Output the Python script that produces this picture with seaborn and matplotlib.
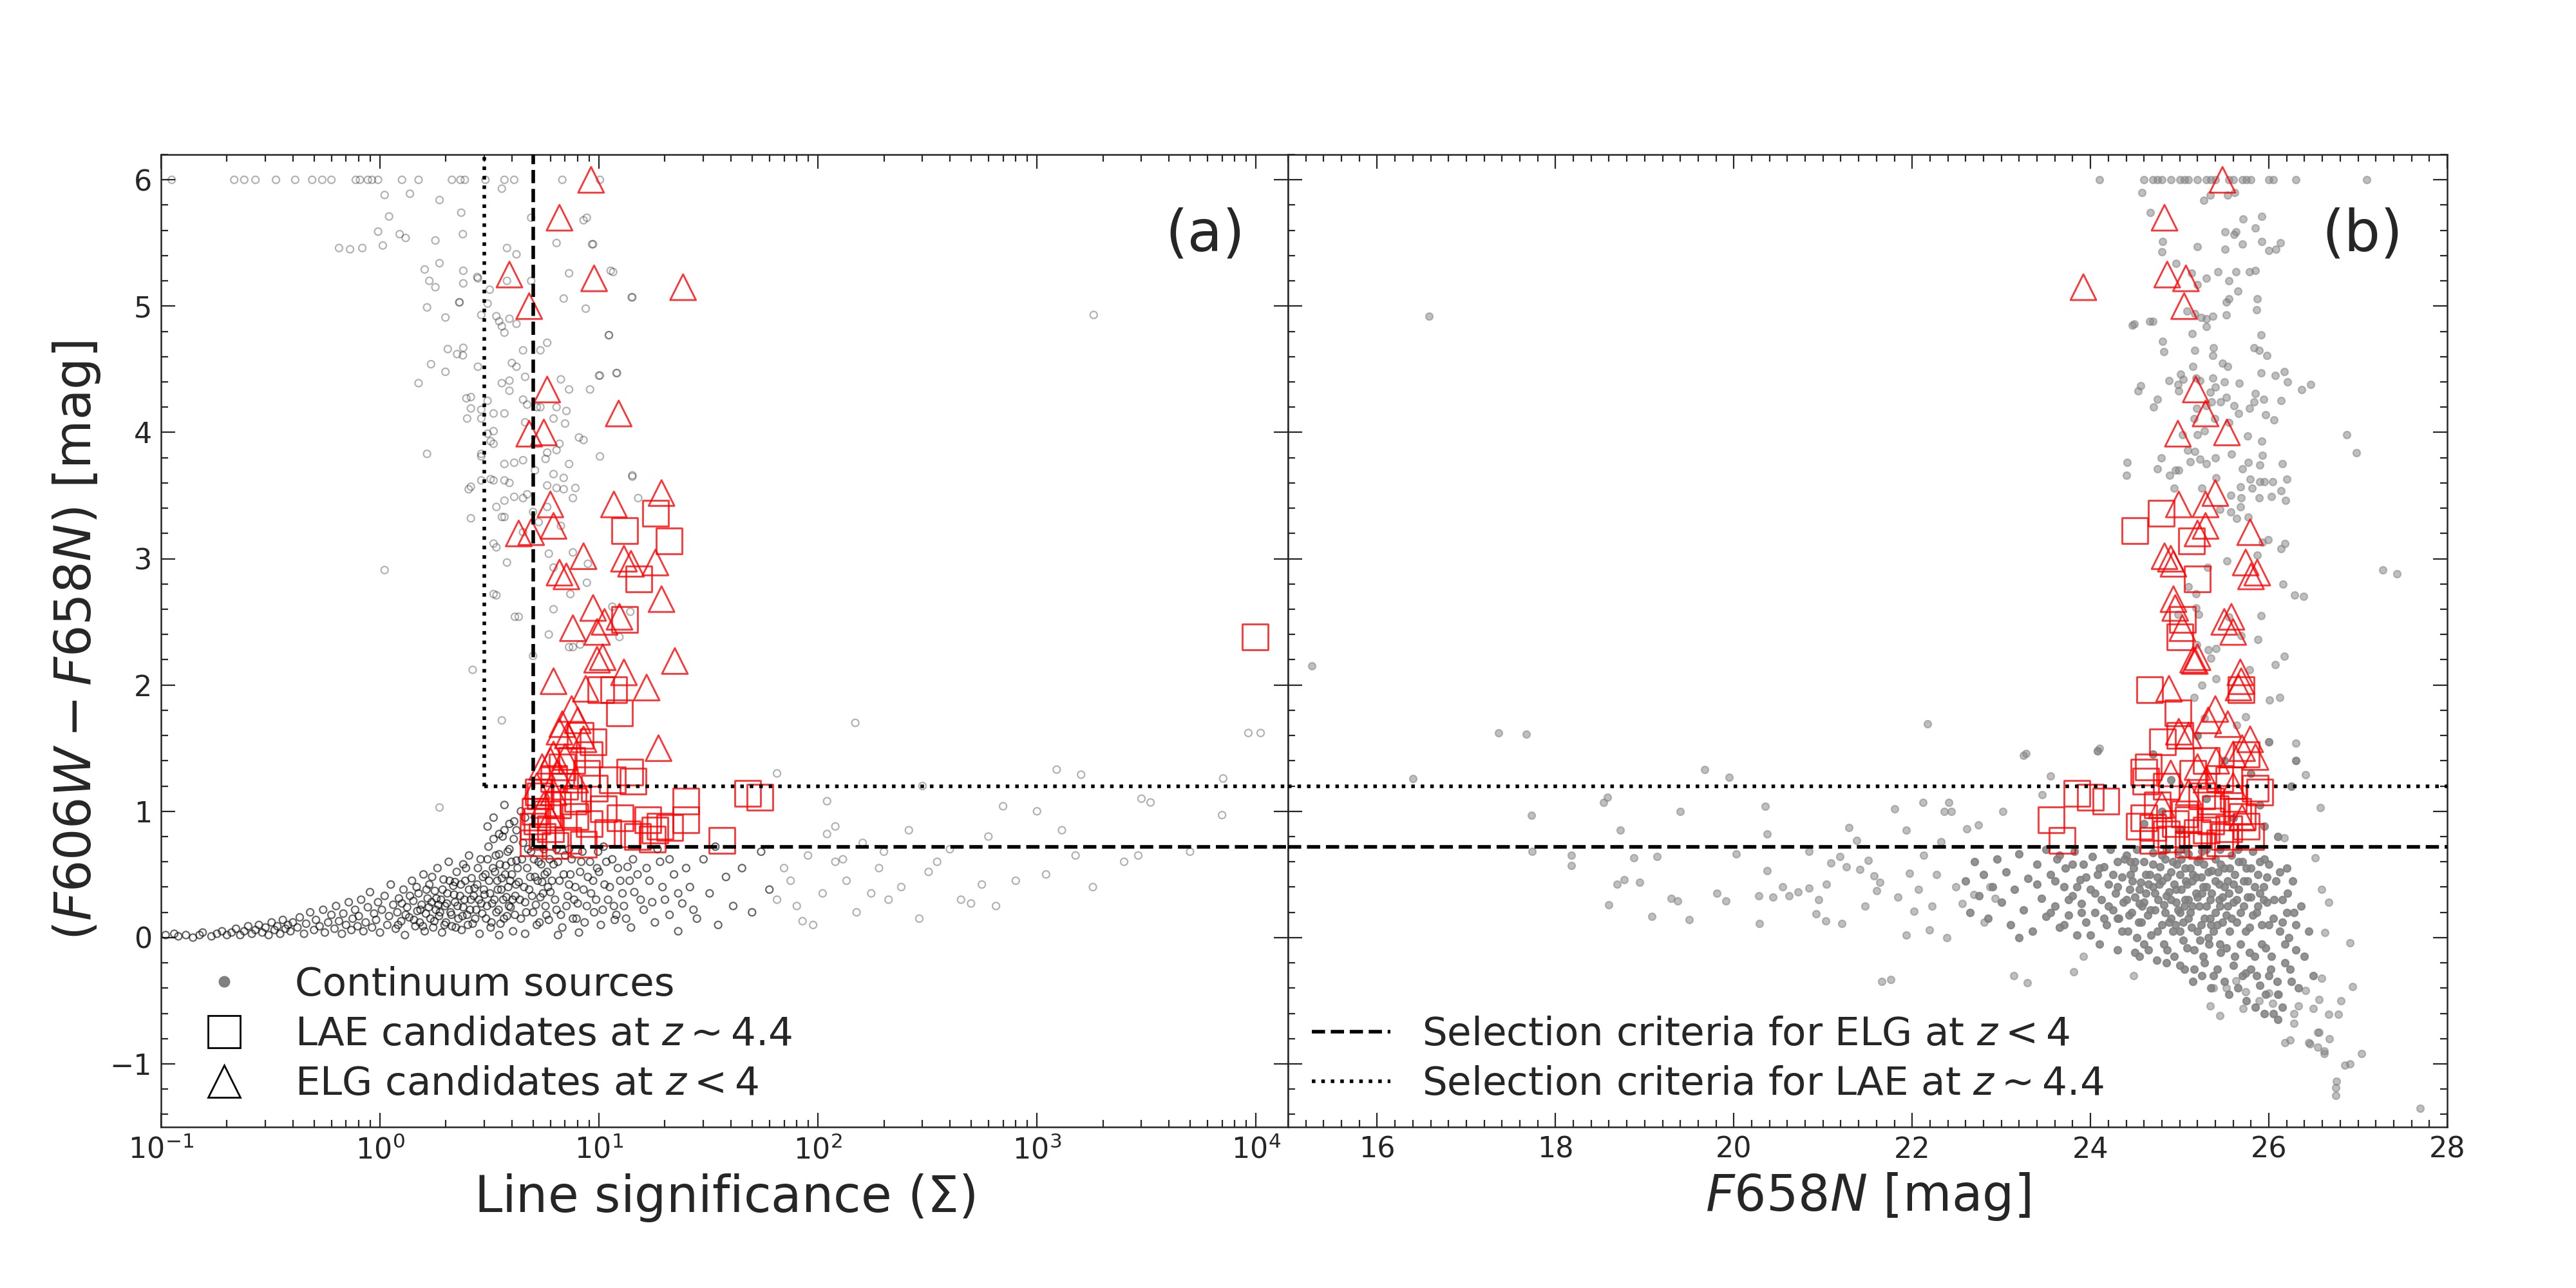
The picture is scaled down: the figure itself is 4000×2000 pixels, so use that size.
import numpy as np
import matplotlib
matplotlib.use("Agg")
import matplotlib.pyplot as plt
import seaborn as sns
from matplotlib.lines import Line2D
from matplotlib.ticker import MultipleLocator

# ---- continuum sources, panel (a): (line significance, colour) ----
cont_a_top = [(0.112, 6.0), (0.216, 6.0), (0.24, 6.0), (0.27, 6.0), (0.335, 6.0), (0.41, 6.0),
              (0.49, 6.0), (0.545, 6.0), (0.6, 6.0), (0.775, 6.0), (0.81, 6.0), (0.88, 6.0),
              (0.92, 6.0), (0.98, 6.0), (1.26, 6.0), (1.5, 6.0), (2.13, 6.0), (2.33, 6.0),
              (2.44, 6.0), (3.03, 6.0), (3.7, 6.0), (4.1, 6.0), (6.8, 6.0), (10.1, 6.0)]
cont_a_high = [(1.05, 5.88), (1.37, 5.89), (1.87, 5.84), (1.1, 5.71), (0.98, 5.59), (0.65, 5.46),
               (0.73, 5.45), (0.83, 5.46), (1.03, 5.48), (1.23, 5.57), (1.31, 5.54), (1.79, 5.52),
               (2.39, 5.57), (1.6, 5.29), (1.68, 5.2), (1.87, 5.34), (1.79, 5.15), (1.64, 4.99),
               (1.99, 4.91), (2.31, 5.03), (2.78, 5.23), (3.17, 5.13), (2.04, 4.66), (2.39, 4.61),
               (1.99, 4.48), (1.5, 4.39), (1.71, 4.54), (2.48, 4.27), (2.9, 4.18), (1.64, 3.83),
               (2.9, 3.83), (2.54, 3.55), (2.9, 3.62), (3.3, 2.72), (1.05, 2.91), (2.65, 2.12),
               (4.13, 2.54), (3.6, 1.72), (1.87, 1.03), (8.8, 5.7), (9.4, 5.49), (11.3, 5.28),
               (11.1, 4.77), (10.0, 4.45), (12.0, 4.47), (14.2, 5.07), (14.2, 3.65),
               (3.6, 5.93), (2.35, 5.74), (4.9, 5.70), (8.5, 5.68), (6.4, 5.50), (9.3, 5.49),
               (3.8, 5.46), (4.2, 5.41), (2.4, 5.28), (2.4, 5.18), (2.8, 5.22), (3.8, 5.2),
               (4.9, 5.2), (7.3, 5.26), (6.9, 5.06), (11.6, 5.27), (14.1, 5.07), (2.3, 5.03),
               (3.1, 5.02), (2.9, 4.93), (3.4, 4.92), (3.9, 4.90), (3.5, 4.88), (3.6, 4.84),
               (4.2, 4.86), (3.7, 4.79), (8.7, 4.98), (11.1, 4.77), (2.4, 4.67), (2.25, 4.62),
               (4.5, 4.65), (5.4, 4.65), (5.8, 4.71), (4.0, 4.55), (2.8, 4.52), (4.2, 4.52),
               (4.6, 4.44), (3.9, 4.41), (3.6, 4.39), (3.9, 4.33), (6.7, 4.42), (7.3, 4.34),
               (9.1, 4.34), (10.1, 4.45), (12.1, 4.47), (2.6, 4.28), (3.1, 4.25), (2.6, 4.19),
               (4.5, 4.26), (4.7, 4.22), (5.2, 4.20), (5.4, 4.20), (6.4, 4.20), (7.1, 4.17),
               (3.3, 4.15), (3.7, 4.15), (2.5, 4.11), (2.9, 4.11), (6.2, 4.11), (7.0, 4.07),
               (4.6, 4.08), (3.3, 4.01), (3.1, 3.99), (8.1, 3.96), (8.5, 3.94), (3.2, 3.93),
               (3.3, 3.91), (6.6, 3.91), (6.4, 3.86), (2.9, 3.81), (5.8, 3.84), (5.7, 3.79),
               (10.1, 3.81), (3.7, 3.75), (4.1, 3.76), (4.5, 3.78), (5.1, 3.70), (7.3, 3.75),
               (6.2, 3.67), (6.9, 3.64), (14.2, 3.66), (3.2, 3.63), (3.3, 3.62), (3.7, 3.62),
               (3.9, 3.60), (2.6, 3.57), (5.8, 3.58), (6.4, 3.56), (6.9, 3.55), (7.8, 3.56),
               (4.1, 3.49), (4.5, 3.48), (4.7, 3.51), (7.6, 3.48), (15.1, 3.48), (3.7, 3.46),
               (3.4, 3.41), (2.6, 3.32), (3.6, 3.33), (3.7, 3.33), (5.8, 3.41), (5.0, 3.37),
               (5.3, 3.29), (6.7, 3.26), (4.5, 3.21), (3.3, 3.12), (3.4, 3.09), (3.8, 2.97),
               (5.9, 3.04), (7.6, 3.05), (6.2, 2.93), (8.9, 2.96), (8.8, 2.81), (7.4, 2.72),
               (3.4, 2.71), (6.2, 2.60), (4.3, 2.54), (11.5, 2.62), (13.9, 2.58), (5.9, 2.40),
               (7.3, 2.30), (7.6, 2.30), (8.2, 2.32), (12.4, 2.38), (5.0, 2.23),
               (1815, 4.93), (148, 1.70), (9230, 1.62), (10500, 1.62), (7080, 1.26),
               (1230, 1.33), (1590, 1.29)]
cont_a_cloud = [(0.105, 0.02), (0.115, 0.03), (0.12, 0.01), (0.13, 0.02), (0.14, 0.0), (0.15, 0.02),
                (0.155, 0.04), (0.17, 0.01), (0.18, 0.03), (0.19, 0.05), (0.2, 0.02), (0.21, 0.04),
                (0.22, 0.07), (0.23, 0.02), (0.24, 0.05), (0.25, 0.09), (0.26, 0.03), (0.27, 0.06),
                (0.28, 0.1), (0.29, 0.04), (0.3, 0.08), (0.31, 0.02), (0.32, 0.12), (0.33, 0.06),
                (0.34, 0.09), (0.35, 0.03), (0.36, 0.14), (0.37, 0.07), (0.38, 0.1), (0.39, 0.05),
                (0.4, 0.12), (0.42, 0.08), (0.43, 0.16), (0.45, 0.03), (0.46, 0.11), (0.48, 0.2),
                (0.5, 0.06), (0.51, 0.14), (0.53, 0.09), (0.55, 0.22), (0.56, 0.04), (0.58, 0.12),
                (0.6, 0.18), (0.62, 0.07), (0.63, 0.25), (0.65, 0.13), (0.67, 0.03), (0.68, 0.19),
                (0.7, 0.1), (0.72, 0.28), (0.74, 0.06), (0.75, 0.15), (0.77, 0.22), (0.79, 0.09),
                (0.8, 0.17), (0.82, 0.3), (0.84, 0.05), (0.86, 0.12), (0.88, 0.24), (0.9, 0.36),
                (0.92, 0.08), (0.94, 0.19), (0.96, 0.14), (0.98, 0.28), (1.0, 0.04), (1.02, 0.22),
                (1.05, 0.33), (1.08, 0.1), (1.1, 0.17), (1.12, 0.42), (1.15, 0.26), (1.18, 0.07),
                (1.2, 0.2), (1.22, 0.31), (1.25, 0.13), (1.28, 0.38), (1.3, 0.02), (1.33, 0.24),
                (1.36, 0.16), (1.4, 0.45), (1.42, 0.29), (1.45, 0.09), (1.48, 0.21), (1.5, 0.35),
                (1.52, 0.12), (1.55, 0.26), (1.58, 0.5), (1.6, 0.05), (1.62, 0.19), (1.65, 0.31),
                (1.68, 0.42), (1.7, 0.15), (1.72, 0.28), (1.75, 0.08), (1.78, 0.37), (1.8, 0.22),
                (1.83, 0.55), (1.86, 0.17), (1.9, 0.3), (1.92, 0.04), (1.95, 0.46), (1.98, 0.25),
                (2.0, 0.12), (2.03, 0.35), (2.06, 0.6), (2.1, 0.2), (2.13, 0.09), (2.16, 0.41),
                (2.2, 0.28), (2.24, 0.52), (2.28, 0.15), (2.32, 0.33), (2.36, 0.06), (2.4, 0.24),
                (2.45, 0.45), (2.5, 0.18), (2.55, 0.65), (2.6, 0.3), (2.65, 0.11), (2.7, 0.39),
                (2.75, 0.22), (2.8, 0.55), (2.85, 0.03), (2.9, 0.27), (2.95, 0.48), (2.55, 0.38),
                (2.2, 0.44), (1.85, 0.26), (2.4, 0.58), (3.0, 0.34), (3.05, 0.15), (3.1, 0.62),
                (3.15, 0.45), (3.2, 0.08), (3.25, 0.27), (3.3, 0.78), (3.35, 0.52), (3.4, 0.2),
                (3.45, 0.38), (3.5, 0.66), (3.55, 0.11), (3.6, 0.47), (3.65, 0.3), (3.7, 0.85),
                (3.75, 0.57), (3.8, 0.17), (3.85, 0.4), (3.9, 0.7), (3.95, 0.24), (4.0, 0.5),
                (4.05, 0.05), (4.1, 0.92), (4.15, 0.33), (4.2, 0.61), (4.3, 0.44), (4.4, 0.15),
                (4.5, 0.75), (4.6, 0.28), (4.7, 0.55), (4.8, 0.38), (4.9, 0.68), (5.0, 0.2),
                (5.1, 0.48), (5.2, 0.1), (5.3, 0.6), (5.4, 0.32), (5.5, 0.44), (5.6, 0.7),
                (5.7, 0.25), (5.8, 0.52), (5.9, 0.14), (6.0, 0.36), (3.3, 0.95), (3.7, 1.05),
                (4.4, 1.0), (3.1, 0.88), (3.5, 0.02), (4.6, 0.03), (6.2, 0.58), (6.4, 0.22),
                (6.6, 0.45), (6.8, 0.08), (7.0, 0.65), (7.2, 0.33), (7.4, 0.5), (7.6, 0.15),
                (7.8, 0.4), (8.0, 0.27), (8.3, 0.6), (8.6, 0.12), (8.9, 0.48), (9.2, 0.35),
                (9.5, 0.2), (9.8, 0.55), (10.2, 0.1), (10.6, 0.42), (11.0, 0.3), (11.5, 0.62),
                (12.0, 0.18), (12.5, 0.45), (13.0, 0.25), (13.5, 0.56), (14.0, 0.08), (14.5, 0.36),
                (15.0, 0.5), (6.5, 0.02), (8.1, 0.04), (9.9, 0.68), (11.8, 0.14), (7.3, 0.7),
                (16, 0.22), (17, 0.45), (18, 0.12), (19, 0.6), (20, 0.3), (21, 0.18), (22, 0.5),
                (24, 0.27), (26, 0.4), (28, 0.15), (30, 0.62), (32, 0.35), (35, 0.1), (38, 0.48),
                (41, 0.25), (45, 0.55), (50, 0.2), (55, 0.68), (60, 0.38), (18.5, 0.7), (23, 0.05),
                (34, 0.72)]
cont_a_core = [(1.21, 0.1), (1.26, 0.27), (1.31, 0.18), (1.37, 0.33), (1.43, 0.14), (1.47, 0.4),
               (1.53, 0.22), (1.57, 0.09), (1.63, 0.38), (1.67, 0.24), (1.73, 0.48), (1.77, 0.13),
               (1.81, 0.31), (1.88, 0.2), (1.93, 0.38), (1.97, 0.1), (2.02, 0.27), (2.08, 0.45),
               (2.12, 0.18), (2.18, 0.34), (2.22, 0.08), (2.26, 0.25), (2.34, 0.42), (2.38, 0.17),
               (2.43, 0.3), (2.47, 0.55), (2.52, 0.1), (2.58, 0.22), (2.62, 0.47), (2.68, 0.33),
               (2.72, 0.15), (2.78, 0.42), (2.83, 0.3), (2.88, 0.62), (2.93, 0.19), (2.98, 0.38),
               (3.03, 0.5), (3.08, 0.25), (3.13, 0.72), (3.18, 0.35), (3.23, 0.12), (3.28, 0.55),
               (3.33, 0.3), (3.38, 0.65), (3.43, 0.45), (3.48, 0.22), (3.53, 0.58), (3.58, 0.38),
               (3.63, 0.8), (3.68, 0.15), (3.73, 0.5), (3.78, 0.32), (3.83, 0.68), (3.88, 0.25),
               (3.93, 0.45), (3.98, 0.6), (4.03, 0.3), (4.08, 0.78), (4.13, 0.18), (4.18, 0.42),
               (4.25, 0.55), (4.35, 0.3), (4.45, 0.62), (4.55, 0.4), (4.65, 0.2), (4.75, 0.7),
               (4.85, 0.48), (4.95, 0.33), (5.05, 0.62), (5.15, 0.26), (5.25, 0.45), (5.35, 0.12),
               (5.45, 0.58), (5.55, 0.35), (5.65, 0.5), (5.75, 0.18), (5.85, 0.4), (5.95, 0.62),
               (4.2, 0.85), (3.9, 0.9), (4.6, 0.95), (3.5, 0.82), (6.1, 0.45), (6.3, 0.3),
               (6.5, 0.6), (6.7, 0.18), (6.9, 0.5), (7.1, 0.25), (7.3, 0.42), (7.5, 0.62),
               (7.7, 0.3), (7.9, 0.15), (8.2, 0.52), (8.5, 0.38), (8.8, 0.25), (9.1, 0.6),
               (9.4, 0.45), (9.7, 0.3), (10.0, 0.52), (10.4, 0.22), (10.8, 0.6), (11.2, 0.4),
               (11.7, 0.25), (12.2, 0.55), (12.8, 0.35), (13.3, 0.15), (13.8, 0.45), (14.3, 0.62),
               (15.5, 0.3), (16.5, 0.55), (17.5, 0.28), (19.5, 0.4), (21, 0.62), (23, 0.35),
               (25, 0.55), (27, 0.22), (6.4, 0.7), (8.4, 0.68), (10.5, 0.72)]
cont_a_tail = [(65, 0.3), (70, 0.55), (75, 0.45), (80, 0.25), (90, 0.65), (95, 0.1),
               (105, 0.35), (110, 0.82), (120, 0.6), (135, 0.45), (150, 0.2), (160, 0.75),
               (175, 0.35), (190, 0.55), (200, 0.68), (210, 0.3), (240, 0.4), (260, 0.85),
               (290, 0.15), (320, 0.52), (350, 0.6), (400, 0.7), (450, 0.3), (500, 0.27),
               (560, 0.42), (600, 0.8), (650, 0.25), (700, 1.04), (800, 0.45), (1000, 1.0),
               (1100, 0.5), (1300, 0.85), (1500, 0.65), (1800, 0.4), (2500, 0.6), (2900, 0.65),
               (3000, 1.1), (3300, 1.07), (5000, 0.68), (7000, 0.97), (65, 1.3), (110, 1.08),
               (120, 0.88), (130, 0.62), (85, 0.13), (300, 1.2)]

# ---- continuum sources, panel (b): (F658N, colour) ----
cont_b_top = [(24.1, 6.0), (24.6, 6.0), (24.7, 6.0), (24.75, 6.0), (24.8, 6.0), (24.9, 6.0),
              (25.0, 6.0), (25.05, 6.0), (25.1, 6.0), (25.2, 6.0), (25.3, 6.0), (25.35, 6.0),
              (25.4, 6.0), (25.55, 6.0), (25.6, 6.0), (25.7, 6.0), (25.75, 6.0), (25.8, 6.0),
              (26.0, 6.0), (26.05, 6.0), (26.3, 6.0), (27.1, 6.0)]
cont_b_high = [(24.58, 5.90), (25.27, 5.84), (25.34, 5.88), (25.54, 5.88), (25.62, 5.90), (24.67, 5.74),
               (25.71, 5.69), (25.92, 5.71), (25.85, 5.62), (25.51, 5.59), (25.61, 5.57), (25.63, 5.59),
               (24.81, 5.51), (25.20, 5.47), (25.51, 5.45), (25.70, 5.49), (25.92, 5.51), (26.0, 5.44),
               (26.08, 5.45), (26.13, 5.50), (24.80, 5.43), (24.96, 5.34), (25.13, 5.26), (25.30, 5.22),
               (25.43, 5.27), (25.63, 5.27), (25.78, 5.27), (25.85, 5.28), (25.20, 5.17), (25.55, 5.20),
               (25.65, 5.12), (25.55, 5.06), (25.52, 5.03), (25.87, 5.06), (25.86, 4.97), (24.47, 4.85),
               (24.66, 4.88), (25.08, 4.96), (25.17, 4.94), (25.24, 4.91), (25.30, 4.90), (25.37, 4.92),
               (25.30, 4.84), (25.52, 4.93), (25.14, 4.78), (25.91, 4.77), (24.81, 4.72), (24.82, 4.64),
               (25.17, 4.65), (25.38, 4.67), (25.37, 4.61), (25.83, 4.67), (25.89, 4.65), (25.98, 4.61),
               (25.15, 4.52), (25.48, 4.55), (25.54, 4.52), (25.91, 4.47), (26.07, 4.45), (26.17, 4.48),
               (26.37, 4.34), (24.53, 4.33), (24.88, 4.41), (25.01, 4.46), (25.04, 4.42), (24.98, 4.38),
               (24.99, 4.33), (25.18, 4.43), (25.23, 4.41), (25.37, 4.43), (25.40, 4.36), (25.50, 4.40),
               (25.67, 4.39), (25.34, 4.32), (24.71, 4.20), (25.19, 4.19), (25.30, 4.21), (25.36, 4.24),
               (25.46, 4.24), (25.52, 4.28), (25.61, 4.21), (25.66, 4.15), (25.78, 4.19), (25.85, 4.31),
               (25.83, 4.24), (25.94, 4.26), (25.96, 4.14), (26.06, 4.10), (26.14, 4.25), (25.16, 4.11),
               (25.39, 4.11), (25.28, 4.01), (25.20, 3.98), (25.76, 3.97), (25.92, 3.93), (25.93, 3.82),
               (25.55, 4.08), (25.03, 3.98), (25.17, 3.85), (25.09, 3.86), (24.79, 3.80), (25.23, 3.79),
               (25.12, 3.77), (25.40, 3.80), (25.30, 3.75), (25.58, 3.83), (24.75, 3.71), (24.95, 3.70),
               (24.99, 3.70), (24.40, 3.66), (24.89, 3.66), (25.77, 3.76), (25.70, 3.71), (25.90, 3.74),
               (26.15, 3.75), (25.41, 3.64), (24.94, 3.56), (25.25, 3.56), (25.79, 3.63), (25.90, 3.61),
               (25.95, 3.61), (26.04, 3.61), (26.20, 3.63), (25.68, 3.57), (25.81, 3.56), (26.14, 3.54),
               (25.57, 3.50), (25.69, 3.48), (25.89, 3.48), (26.03, 3.49), (26.19, 3.46), (25.68, 3.41),
               (25.45, 3.39), (25.57, 3.37), (25.64, 3.32), (25.77, 3.33), (26.87, 3.98), (25.93, 3.13),
               (25.99, 3.15), (26.14, 3.08), (26.18, 3.12), (25.53, 2.98), (25.87, 3.03), (25.31, 2.93),
               (27.28, 2.91), (26.16, 2.80), (26.29, 2.71), (25.10, 2.78), (25.18, 2.72), (25.18, 2.61),
               (24.98, 2.56), (25.21, 2.56), (25.55, 2.54), (25.91, 2.55), (25.69, 2.39), (25.88, 2.36),
               (25.19, 2.32), (25.32, 2.28), (25.41, 2.29), (25.35, 2.21), (26.07, 2.16), (26.17, 2.23),
               (25.78, 2.12), (25.41, 2.05), (25.25, 2.00), (25.16, 1.90), (26.01, 1.88), (26.12, 1.90),
               (25.74, 1.75), (25.28, 1.74), (26.30, 1.54), (24.08, 1.48), (25.64, 1.68),
               (24.49, 4.86), (24.70, 4.88), (24.56, 4.37), (24.75, 4.26), (24.41, 3.76), (26.21, 4.40),
               (26.47, 4.38), (26.39, 2.70), (27.44, 2.88), (26.98, 3.84),
               (16.58, 4.92), (15.27, 2.15), (17.36, 1.62), (17.67, 1.61), (22.17, 1.69), (24.1, 1.5),
               (23.28, 1.46)]
cont_b_faint = [(16.40, 1.26), (17.73, 0.97), (17.74, 0.68), (18.18, 0.65), (18.18, 0.57), (18.54, 1.07),
                (18.58, 1.11), (18.73, 0.85), (18.88, 0.63), (18.69, 0.42), (18.77, 0.46), (18.94, 0.44),
                (18.60, 0.26), (19.14, 0.64), (19.08, 0.17), (19.30, 0.31), (19.37, 0.29), (19.40, 1.0),
                (19.50, 0.14), (19.67, 1.33), (19.81, 0.35), (19.91, 0.29), (19.95, 1.27), (20.03, 0.66),
                (20.28, 0.33), (20.29, 0.11), (20.35, 1.04), (20.37, 0.82), (20.37, 0.53), (20.44, 0.32),
                (20.55, 0.40), (20.62, 0.33), (20.72, 0.36), (20.84, 0.68), (20.84, 0.39), (20.92, 0.19),
                (20.95, 0.30), (21.03, 0.13), (21.04, 0.42), (21.09, 0.59), (21.19, 0.64), (21.21, 0.11),
                (21.26, 0.56), (21.29, 0.87), (21.38, 0.77), (21.41, 0.54), (21.47, 0.25), (21.51, 0.61),
                (21.57, 0.49), (21.60, 0.37), (21.64, 0.44), (21.66, -0.35), (21.76, -0.33), (21.80, 1.02),
                (21.84, 0.32), (21.93, 0.85), (21.93, 0.02), (21.97, 0.51), (22.02, 0.21), (22.07, 0.38),
                (22.12, 1.07), (22.13, 0.65), (22.19, 0.06), (22.22, 0.25), (22.27, 0.50), (22.32, 0.76),
                (22.36, 1.0), (22.39, 0.0), (22.41, 1.07), (22.44, 1.0), (22.49, 0.4), (22.56, 0.27),
                (22.61, 0.86), (22.69, 0.34), (22.74, 0.89), (22.81, 0.12), (22.87, 0.40), (22.93, 0.31),
                (23.02, 1.0), (23.14, -0.30), (23.25, 1.44), (23.29, -0.36), (23.46, 1.13), (23.55, 1.28),
                (23.81, -0.27), (23.92, -0.15), (24.08, 1.48), (24.48, -0.30), (26.17, 0.79), (26.41, 1.29),
                (26.52, 0.63), (26.58, 1.03), (26.59, 0.38), (26.67, 0.28), (26.63, 0.04), (26.91, -0.04),
                (26.59, -0.32), (26.81, -0.50), (26.94, -0.39), (26.56, -0.75), (26.45, -0.83),
                (26.33, -0.54), (26.28, -0.60), (26.41, -0.42), (26.56, -0.49), (26.67, -0.61),
                (26.78, -0.61), (26.50, -0.56), (26.28, -0.68), (26.04, -0.52), (25.89, -0.50),
                (25.71, -0.56), (25.45, -0.62), (25.34, -0.54), (26.0, -0.44), (26.11, -0.45),
                (25.74, -0.43), (25.52, -0.40), (25.38, -0.40), (25.63, -0.34),
                (26.18, -0.83), (26.24, -0.81), (26.46, -0.84), (26.55, -0.87), (26.62, -0.90),
                (26.62, -0.92), (26.68, -0.80), (26.55, -0.75), (27.04, -0.92), (26.85, -1.01),
                (26.91, -1.0), (26.76, -1.14), (26.75, -1.19), (26.75, -1.25), (27.70, -1.35)]
cont_b_cloud = [(22.6, 0.45), (22.65, 0.2), (22.7, 0.6), (22.75, 0.33), (22.8, 0.5), (22.85, 0.15),
                (22.9, 0.4), (22.95, 0.62), (23.0, 0.28), (23.05, 0.52), (23.1, 0.1), (23.15, 0.38),
                (23.2, 0.66), (23.25, 0.22), (23.3, 0.47), (23.35, 0.05), (23.4, 0.58), (23.45, 0.31),
                (23.5, 0.17), (23.5, 0.7), (23.2, 0.0), (23.4, 0.42), (23.55, 0.5), (23.6, 0.25),
                (23.62, 0.62), (23.65, 0.08), (23.7, 0.4), (23.72, 0.55), (23.75, 0.18), (23.8, 0.33),
                (23.82, 0.68), (23.85, 0.02), (23.88, 0.46), (23.9, 0.27), (23.92, 0.58), (23.95, 0.12),
                (24.0, 0.38), (24.02, 0.64), (24.05, 0.2), (24.08, 0.5), (24.1, -0.05), (24.12, 0.3),
                (24.15, 0.56), (24.18, 0.1), (24.2, 0.42), (24.22, 0.7), (24.25, 0.22), (24.28, 0.35),
                (24.3, -0.1), (24.3, 0.6), (24.32, 0.15), (24.35, 0.48), (24.37, 0.28), (24.4, 0.65),
                (24.42, 0.05), (24.44, 0.38), (24.46, 0.2), (24.48, 0.55), (24.5, -0.12), (24.5, 0.32),
                (24.52, 0.7), (24.54, 0.12), (24.56, 0.44), (24.58, 0.25), (24.6, 0.6), (24.6, -0.05),
                (24.62, 0.35), (24.64, 0.18), (24.66, 0.5), (24.68, 0.02), (24.7, 0.4), (24.7, 0.67),
                (24.72, 0.22), (24.74, -0.18), (24.76, 0.3), (24.78, 0.56), (24.8, 0.1), (24.8, 0.45),
                (24.82, 0.26), (24.84, 0.62), (24.86, -0.1), (24.88, 0.36), (24.9, 0.15), (24.9, 0.52),
                (24.92, 0.05), (24.94, 0.42), (24.96, 0.28), (24.98, 0.68), (25.0, -0.22), (25.0, 0.2),
                (24.97, 0.58), (24.85, 0.33), (24.65, 0.42), (24.45, 0.6), (24.55, 0.27), (24.75, 0.48),
                (24.95, 0.1), (25.02, 0.38), (25.04, 0.12), (25.06, 0.55), (25.08, -0.08), (25.1, 0.3),
                (25.1, 0.66), (25.12, 0.2), (25.14, 0.45), (25.16, -0.25), (25.18, 0.35), (25.2, 0.05),
                (25.2, 0.6), (25.22, 0.25), (25.24, 0.48), (25.26, -0.15), (25.28, 0.15), (25.3, 0.4),
                (25.3, 0.7), (25.32, 0.0), (25.34, 0.3), (25.36, 0.53), (25.38, -0.3), (25.4, 0.2),
                (25.4, 0.62), (25.42, 0.1), (25.44, 0.42), (25.46, -0.12), (25.48, 0.32), (25.5, 0.55),
                (25.5, -0.35), (25.52, 0.18), (25.54, 0.45), (25.56, 0.05), (25.58, 0.65), (25.6, 0.28),
                (25.6, -0.22), (25.05, 0.25), (25.15, 0.5), (25.25, 0.35), (25.35, 0.1), (25.45, 0.25),
                (25.55, 0.35), (25.13, 0.08), (25.27, 0.58), (25.43, 0.52), (25.33, -0.05), (25.23, -0.02),
                (25.07, 0.45), (25.62, 0.5), (25.64, 0.12), (25.66, 0.38), (25.68, -0.05), (25.7, 0.6),
                (25.72, 0.25), (25.74, -0.28), (25.76, 0.45), (25.78, 0.08), (25.8, 0.32), (25.82, 0.68),
                (25.84, -0.15), (25.86, 0.2), (25.88, 0.5), (25.9, -0.38), (25.92, 0.1), (25.94, 0.4),
                (25.96, -0.08), (25.98, 0.28), (26.0, 0.58), (26.02, -0.25), (26.05, 0.15), (26.08, 0.45),
                (26.1, -0.45), (26.12, 0.05), (26.15, 0.3), (26.18, -0.2), (26.2, 0.55), (26.22, 0.0),
                (26.25, -0.35), (26.28, 0.2), (26.3, -0.1), (25.65, -0.4), (25.85, -0.55), (26.05, -0.6),
                (25.75, 0.55), (25.95, 0.62), (26.15, -0.55), (25.8, -0.25), (26.0, -0.3),
                (24.6, 0.9), (24.8, 1.0), (25.0, 0.85), (25.3, 1.1), (25.6, 0.95), (25.9, 1.05),
                (26.1, 0.8), (24.9, 1.25), (25.5, 1.4), (25.2, 1.6), (25.8, 1.3), (26.0, 1.55),
                (24.7, 1.45), (25.95, 0.88), (26.3, 1.4), (26.25, 1.2)]
cont_b_core = [(24.05, 0.35), (24.1, 0.55), (24.15, 0.15), (24.2, 0.25), (24.25, 0.5), (24.3, 0.4),
               (24.35, 0.05), (24.38, 0.62), (24.4, 0.3), (24.43, 0.18), (24.47, 0.45), (24.5, 0.6),
               (24.52, 0.0), (24.55, 0.38), (24.57, 0.12), (24.6, 0.28), (24.62, 0.5), (24.65, -0.1),
               (24.67, 0.22), (24.7, 0.58), (24.72, 0.35), (24.75, 0.05), (24.77, 0.42), (24.8, 0.65),
               (24.82, -0.05), (24.84, 0.2), (24.86, 0.48), (24.88, 0.12), (24.9, 0.3), (24.92, 0.6),
               (24.94, -0.15), (24.96, 0.38), (24.98, 0.22), (25.0, 0.5), (25.0, 0.05), (25.02, 0.62),
               (25.04, -0.02), (25.06, 0.3), (25.08, 0.42), (25.1, 0.15), (25.12, 0.55), (25.14, 0.25),
               (25.16, -0.1), (25.18, 0.48), (25.2, 0.32), (25.22, 0.62), (25.24, 0.1), (25.26, 0.4),
               (25.28, -0.2), (25.3, 0.25), (25.32, 0.52), (25.34, 0.15), (25.36, 0.35), (25.38, 0.05),
               (25.4, 0.45), (25.42, -0.25), (25.44, 0.3), (25.46, 0.58), (25.48, 0.12), (25.5, 0.4),
               (25.52, -0.08), (25.54, 0.25), (25.56, 0.55), (25.58, 0.15), (25.6, 0.42), (25.62, -0.15),
               (25.64, 0.3), (25.66, 0.6), (25.68, 0.2), (25.7, -0.3), (25.72, 0.45), (25.74, 0.05),
               (25.76, 0.32), (25.78, -0.12), (25.8, 0.55), (25.82, 0.18), (25.84, 0.4), (25.86, -0.3),
               (25.88, 0.25), (25.9, 0.6), (25.92, -0.05), (25.94, 0.3), (25.96, -0.45), (25.98, 0.48),
               (26.0, 0.1), (26.03, -0.15), (26.06, 0.3), (26.09, -0.35), (26.12, 0.52), (26.15, 0.12),
               (26.18, -0.05), (26.21, 0.35), (26.24, -0.25), (26.27, 0.45), (26.3, 0.1), (26.33, -0.4),
               (26.36, 0.25), (26.4, -0.15), (26.45, 0.05), (26.5, -0.3), (23.6, 0.45), (23.7, 0.1),
               (23.8, 0.58), (23.9, 0.2), (24.0, 0.02), (23.75, 0.3), (23.95, 0.48), (23.55, 0.2),
               (23.65, 0.65), (23.85, 0.4), (25.25, 0.68), (25.45, 0.7), (25.05, 0.7), (25.65, 0.7),
               (24.85, 0.7), (25.15, -0.35), (25.35, -0.4), (25.55, -0.45), (25.75, -0.5), (25.95, -0.6),
               (26.1, -0.65), (25.25, -0.3), (25.45, -0.05), (25.05, -0.25), (24.85, -0.2), (24.55, -0.15),
               (24.3, 0.15), (24.45, 0.5), (25.9, 0.35), (26.2, 0.2)]

# ---- ELG candidates at z<4: colour, line significance, F658N ----
elg_col = [6.0, 5.70, 5.25, 5.22, 5.15, 5.0, 4.34, 4.15, 3.99, 4.0, 3.52, 3.43, 3.43, 3.26, 3.21,
           3.2, 3.02, 3.0, 2.96, 2.97, 2.89, 2.86, 2.68, 2.61, 2.54, 2.50, 2.45, 2.42, 2.19, 2.22,
           2.20, 2.10, 2.03, 1.97, 1.98, 1.81, 1.72, 1.69, 1.63, 1.60, 1.57, 1.50, 1.43, 1.40,
           1.35, 1.30, 1.25, 1.20, 1.45, 1.15, 1.05, 0.95]
elg_sig = [9.2, 6.6, 3.9, 9.5, 24.2, 4.8, 5.8, 12.3, 4.8, 5.6, 19.3, 11.7, 6.0, 6.2, 4.9,
           4.3, 8.5, 13.0, 14.0, 18.1, 6.6, 7.1, 19.3, 9.4, 12.4, 10.6, 7.6, 9.8, 22.2, 10.4,
           9.8, 13.0, 6.2, 8.7, 16.5, 7.5, 8.0, 6.8, 6.6, 7.2, 8.5, 18.7, 7.0, 6.0,
           5.5, 6.5, 7.8, 5.2, 6.2, 6.2, 5.6, 6.0]
elg_mag = [25.48, 24.83, 24.86, 25.07, 23.92, 25.05, 25.18, 25.29, 24.98, 25.53, 25.40, 24.99, 25.29,
           25.29, 25.79, 25.2, 24.83, 24.9, 24.93, 25.74, 25.87, 25.8, 24.93, 24.95, 25.58, 25.50,
           25.03, 25.6, 25.17, 25.2, 25.15, 25.68, 25.69, 24.88, 25.66, 25.4, 25.32, 25.54, 24.99,
           25.1, 25.79, 25.7, 25.85, 25.41, 25.2, 24.9, 25.3, 25.6, 25.6, 25.1, 24.8, 25.7]

# ---- LAE candidates at z~4.4: colour, line significance, F658N ----
lae_col = [3.36, 3.22, 3.14, 2.84, 2.52, 2.38, 1.96, 1.96, 1.78, 1.55, 1.31, 1.24, 1.14, 1.11,
           1.08, 0.93, 0.77, 0.87, 0.93, 0.85, 0.80, 0.78, 0.88, 1.40, 1.35, 1.30, 1.26, 1.20,
           1.18, 1.12, 1.10, 1.05, 1.02, 0.98, 0.96, 0.92, 0.90, 0.86, 0.83, 0.80, 0.77, 0.75,
           0.74, 1.15, 0.95, 1.00, 0.82, 1.45, 1.25, 0.73, 0.88, 1.08, 1.60]
lae_sig = [18.1, 13.1, 20.9, 15.2, 13.1, 9900, 10.2, 11.7, 12.4, 9.4, 13.8, 14.3, 47.8, 54.4,
           25.0, 25.0, 36.4, 21.0, 16.7, 18.0, 15.0, 17.5, 19.0, 7.5, 6.8, 8.8, 6.2, 7.0,
           9.5, 5.4, 8.0, 6.5, 10.5, 5.8, 7.8, 5.2, 9.0, 6.0, 11.0, 5.5, 7.2, 5.0,
           8.5, 5.3, 12.5, 5.1, 13.5, 9.0, 11.5, 6.3, 5.0, 7.6, 8.2]
lae_mag = [24.79, 24.50, 25.13, 25.20, 25.03, 25.00, 24.66, 25.69, 24.98, 24.81, 24.60, 24.62, 23.85,
           24.00, 24.17, 23.56, 23.68, 24.70, 25.10, 25.30, 25.50, 24.90, 25.75, 25.30, 24.65, 25.15,
           25.45, 24.85, 25.85, 25.25, 25.60, 24.75, 25.40, 25.05, 25.70, 25.35, 24.95, 25.55, 25.20,
           25.80, 24.70, 25.45, 25.10, 25.90, 24.60, 25.65, 24.85, 25.75, 25.55, 25.25, 24.55, 25.35,
           25.00]

elg_cut = 0.72
lae_cut = 1.2
elg_sig_cut = 5.0
lae_sig_cut = 3.0

sns.set_style("ticks")
plt.rcParams["font.family"] = ["DejaVu Sans"]
plt.rcParams["mathtext.fontset"] = "dejavusans"

fig = plt.figure(figsize=(20, 10), dpi=200)
ax1 = fig.add_axes([0.0625, 0.125, 0.4375, 0.755])
ax2 = fig.add_axes([0.5, 0.125, 0.45, 0.755])

gray_kw = dict(s=16, marker="o", linewidth=0.8, legend=False)
red_kw = dict(s=207, facecolor="none", edgecolor="red", linewidth=1.0, alpha=0.8,
              legend=False, zorder=3)

# panel (a): sparse outskirts lighter, crowded locus darker
for pts, a in [(cont_a_top, 0.3), (cont_a_high, 0.3), (cont_a_tail, 0.3),
               (cont_a_cloud, 0.6), (cont_a_core, 0.6)]:
    xs, ys = zip(*pts)
    sns.scatterplot(x=list(xs), y=list(ys), ax=ax1, facecolor="none", edgecolor="black",
                    alpha=a, **gray_kw)
sns.scatterplot(x=lae_sig, y=lae_col, ax=ax1, marker="s", **red_kw)
sns.scatterplot(x=elg_sig, y=elg_col, ax=ax1, marker="^", **red_kw)
ax1.set_xscale("log")
ax1.set_xlim(0.1, 14000)
ax1.set_ylim(-1.5, 6.2)
ax1.plot([elg_sig_cut, elg_sig_cut], [elg_cut, 6.2], "k--", lw=2, zorder=4)
ax1.plot([elg_sig_cut, 14000], [elg_cut, elg_cut], "k--", lw=2, zorder=4)
ax1.plot([lae_sig_cut, lae_sig_cut], [lae_cut, 6.2], "k:", lw=2, zorder=4)
ax1.plot([lae_sig_cut, 14000], [lae_cut, lae_cut], "k:", lw=2, zorder=4)

# panel (b)
for pts, a in [(cont_b_top, 0.5), (cont_b_high, 0.5), (cont_b_faint, 0.5),
               (cont_b_cloud, 0.85), (cont_b_core, 0.85)]:
    xs, ys = zip(*pts)
    sns.scatterplot(x=list(xs), y=list(ys), ax=ax2, color="gray", edgecolor="gray",
                    alpha=a, **gray_kw)
sns.scatterplot(x=lae_mag, y=lae_col, ax=ax2, marker="s", **red_kw)
sns.scatterplot(x=elg_mag, y=elg_col, ax=ax2, marker="^", **red_kw)
ax2.axhline(elg_cut, color="k", ls="--", lw=2, zorder=4)
ax2.axhline(lae_cut, color="k", ls=":", lw=2, zorder=4)
ax2.set_xlim(15, 28)
ax2.set_ylim(-1.5, 6.2)
ax2.xaxis.set_major_locator(MultipleLocator(2))
ax2.xaxis.set_minor_locator(MultipleLocator(0.2))

for ax in (ax1, ax2):
    ax.yaxis.set_major_locator(MultipleLocator(1))
    ax.yaxis.set_minor_locator(MultipleLocator(0.2))
    ax.tick_params(which="both", direction="in", top=True, right=True, width=0.8)
    ax.tick_params(which="major", length=8, labelsize=16, pad=5)
    ax.tick_params(which="minor", length=4)
    for sp in ax.spines.values():
        sp.set_linewidth(0.9)
ax1.tick_params(axis="y", which="minor", right=False)
ax2.tick_params(axis="y", labelleft=False)

ax1.set_xlabel(r"Line significance ($\Sigma$)", fontsize=28)
ax1.set_ylabel(r"$(\mathit{F606W} - \mathit{F658N})$ [mag]", fontsize=28)
ax2.set_xlabel(r"$\mathit{F658N}$ [mag]", fontsize=28)

ax1.text(0.962, 0.917, "(a)", transform=ax1.transAxes, ha="right", va="center", fontsize=32)
ax2.text(0.962, 0.917, "(b)", transform=ax2.transAxes, ha="right", va="center", fontsize=32)

h1 = [Line2D([], [], ls="none", marker="o", markersize=5.5, color="gray"),
      Line2D([], [], ls="none", marker="s", markersize=18, mfc="none", mec="black", mew=1.0),
      Line2D([], [], ls="none", marker="^", markersize=18, mfc="none", mec="black", mew=1.0)]
l1 = ["Continuum sources", r"LAE candidates at $z\sim4.4$", r"ELG candidates at $z<4$"]
ax1.legend(h1, l1, loc="lower left", frameon=False, fontsize=22, labelspacing=0.3,
           borderaxespad=0.2)

h2 = [Line2D([], [], ls="--", lw=2, color="black"), Line2D([], [], ls=":", lw=2, color="black")]
l2 = [r"Selection criteria for ELG at $z<4$", r"Selection criteria for LAE at $z\sim4.4$"]
ax2.legend(h2, l2, loc="lower left", frameon=False, fontsize=22, labelspacing=0.3,
           borderaxespad=0.2)

fig.savefig("out.png", dpi=200)
